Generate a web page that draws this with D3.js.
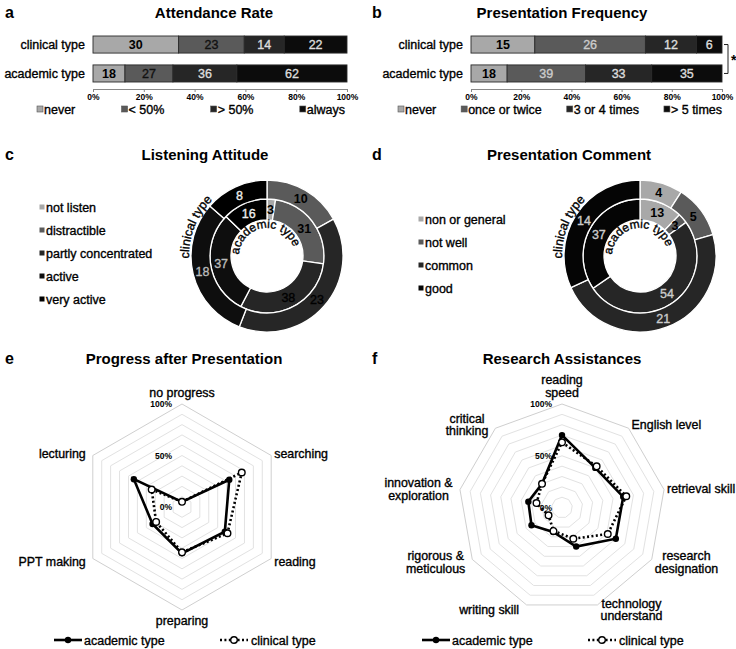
<!DOCTYPE html>
<html>
<head>
<meta charset="utf-8">
<script src="https://cdn.jsdelivr.net/npm/d3@7"></script>
<style>
  body { margin: 0; background: #fff; }
  svg { font-family: "Liberation Sans", Arial, Helvetica, sans-serif; }
</style>
</head>
<body>
<svg id="fig" width="736" height="649"></svg>
<script>
// ---- data ----
const groups = ["clinical type", "academic type"];

const attendanceKeys = ["never", "< 50%", "> 50%", "always"];
const attendanceClinical = [30, 23, 14, 22];
const attendanceAcademic = [18, 27, 36, 62];

const frequencyKeys = ["never", "once or twice", "3 or 4 times", "> 5 times"];
const frequencyClinical = [15, 26, 12, 6];
const frequencyAcademic = [18, 39, 33, 35];

const listenKeys = ["not listen", "distractible", "partly concentrated", "active", "very active"];
const listenClinical = [0, 10, 23, 18, 8];
const listenAcademic = [3, 31, 38, 37, 16];

const commentKeys = ["non or general", "not well", "common", "good"];
const commentClinical = [4, 5, 21, 14];
const commentAcademic = [13, 3, 54, 37];

const progressAxes = ["no progress", "searching", "reading", "preparing", "PPT making", "lecturing"];
const progressAcademic = [5, 53, 48, 45, 33, 54];
const progressClinical = [5, 67, 51, 44, 29, 34];

const researchAxes = ["reading\nspeed", "English level", "retrieval skill", "research\ndesignation",
  "technology\nunderstand", "writing skill", "rigorous &\nmeticulous", "innovation &\nexploration", "critical\nthinking"];
const researchAcademic = [70, 50, 60, 60, 40, 25, 34, 33, 30];
const researchClinical = [63, 52, 63, 51, 32, 24, 15, 25, 30];

const percentTicks = [0, 20, 40, 60, 80, 100];
const radarTicks = [0, 50, 100];

// ---- styles ----
const barColors = ["#a8a8a8", "#5a5a5a", "#262626", "#0c0c0c"];
const donutColors5 = ["#a8a8a8", "#5a5a5a", "#262626", "#0e0e0e", "#000"];
const donutColors4 = ["#a8a8a8", "#5a5a5a", "#262626", "#050505"];

const svg = d3.select("#fig");

function panelHead(x, letter, tx, title, y) {
  svg.append("text").attr("x", x).attr("y", y).attr("font-size", 16).attr("font-weight", "bold").text(letter);
  svg.append("text").attr("x", tx).attr("y", y).attr("text-anchor", "middle")
    .attr("font-size", 15).attr("font-weight", "bold").text(title);
}

function flowLegend(g, keys, colors, xStart, xEnd, y) {
  const items = g.selectAll(".li").data(keys).enter().append("g").attr("class", "li");
  items.append("rect").attr("width", 6).attr("height", 6).attr("y", -8)
    .attr("fill", (d, i) => colors[i]).attr("stroke", "#555").attr("stroke-width", 0.6);
  items.append("text").attr("x", 7).attr("y", 0).attr("font-size", 12.5).text(d => d);
  const widths = [];
  items.each(function () { widths.push(this.getBBox().width); });
  const gap = (xEnd - xStart - d3.sum(widths)) / (keys.length - 1);
  let cur = xStart;
  items.attr("transform", (d, i) => { const t = `translate(${cur},${y})`; cur += widths[i] + gap; return t; });
}

function drawBars(cfg) {
  const g = svg.append("g");
  const x = d3.scaleLinear().domain([0, 100]).range([cfg.x0, cfg.x1]);
  const y = d3.scaleBand().domain(groups).range([36, 82]).paddingInner(0.41);
  const rows = [cfg.clinical, cfg.academic].map((vals, gi) => {
    const total = d3.sum(vals);
    const o = { group: groups[gi] };
    cfg.keys.forEach((k, i) => { o[k] = vals[i] / total * 100; o["raw" + i] = vals[i]; });
    return o;
  });
  const series = d3.stack().keys(cfg.keys)(rows);

  series.forEach((s, i) => {
    g.selectAll(null).data(s).enter().append("rect")
      .attr("x", d => x(d[0])).attr("y", d => y(d.data.group))
      .attr("width", d => x(d[1]) - x(d[0])).attr("height", y.bandwidth())
      .attr("fill", barColors[i]).attr("stroke", "#2a2a2a").attr("stroke-width", 0.9);
    g.selectAll(null).data(s).enter().append("text")
      .attr("x", d => (x(d[0]) + x(d[1])) / 2).attr("y", d => y(d.data.group) + y.bandwidth() / 2)
      .attr("dy", "0.36em").attr("text-anchor", "middle").attr("font-size", 12.5)
      .attr("font-weight", i === 0 ? "bold" : "normal")
      .attr("fill", cfg.textColors[i]).text(d => d.data["raw" + i]);
  });

  g.selectAll(null).data(groups).enter().append("text")
    .attr("x", cfg.x0 - 8).attr("y", d => y(d) + y.bandwidth() / 2).attr("dy", "0.36em")
    .attr("text-anchor", "end").attr("font-size", 12.5).text(d => d);

  const ax = g.append("g").attr("transform", "translate(0,89)")
    .call(d3.axisBottom(x).tickValues(percentTicks).tickFormat(d => d + "%").tickSize(3).tickPadding(2));
  ax.selectAll("path,line").attr("stroke", "#888");
  ax.selectAll("text").attr("font-size", 8.5).attr("font-weight", "bold").attr("fill", "#000")
    .attr("font-family", null);

  flowLegend(g, cfg.keys, barColors, cfg.legendStart, cfg.legendEnd, 114);
  return { g, y };
}

// panel a
panelHead(5, "a", 214, "Attendance Rate", 18);
drawBars({ x0: 93, x1: 347, keys: attendanceKeys, clinical: attendanceClinical, academic: attendanceAcademic,
  textColors: ["#000", "#111", "#ddd", "#ddd"], legendStart: 37, legendEnd: 345 });

// panel b
panelHead(372, "b", 562, "Presentation Frequency", 18);
const bb = drawBars({ x0: 471, x1: 722, keys: frequencyKeys, clinical: frequencyClinical, academic: frequencyAcademic,
  textColors: ["#000", "#ccc", "#ddd", "#ddd"], legendStart: 398, legendEnd: 722 });
// significance bracket
const yTop = bb.y(groups[0]) + bb.y.bandwidth() / 2, yBot = bb.y(groups[1]) + bb.y.bandwidth() / 2;
bb.g.append("path").attr("d", `M724,${yTop}H728V${yBot}H724`).attr("fill", "none").attr("stroke", "#222").attr("stroke-width", 1);
bb.g.append("text").attr("x", 731).attr("y", (yTop + yBot) / 2 + 6).attr("font-size", 14).attr("font-weight", "bold").text("*");

// ---- donuts ----
let pathId = 0;
function arcText(g, r, midDeg, label, size) {
  const id = "tp" + (pathId++);
  const a0 = (midDeg - 150) * Math.PI / 180, a1 = (midDeg + 150) * Math.PI / 180;
  g.append("path").attr("id", id).attr("fill", "none")
    .attr("d", `M${r * Math.sin(a0)},${-r * Math.cos(a0)}A${r},${r} 0 1 1 ${r * Math.sin(a1)},${-r * Math.cos(a1)}`);
  g.append("text").attr("font-size", size).append("textPath").attr("href", "#" + id)
    .attr("startOffset", "50%").attr("text-anchor", "middle").text(label);
}

function drawDonut(cfg) {
  const g = svg.append("g").attr("transform", `translate(${cfg.cx},${cfg.cy})`);
  const pie = d3.pie().sort(null).value(d => d);
  const rings = [
    { vals: cfg.academic, arc: d3.arc().innerRadius(36).outerRadius(57) },
    { vals: cfg.clinical, arc: d3.arc().innerRadius(57).outerRadius(76) }
  ];
  rings.forEach(rg => {
    const arcs = pie(rg.vals);
    g.selectAll(null).data(arcs).enter().append("path")
      .attr("d", rg.arc).attr("fill", (d, i) => cfg.colors[i]).attr("stroke", "#fff").attr("stroke-width", 1.3);
    g.selectAll(null).data(arcs.filter(d => d.value > 0)).enter().append("text")
      .attr("transform", d => `translate(${rg.arc.centroid(d)})`).attr("dy", "0.36em")
      .attr("text-anchor", "middle").attr("font-size", 12.5)
      .attr("font-weight", d => d.index < 2 ? "bold" : "normal")
      .attr("fill", d => cfg.textColors[d.index]).text(d => d.value);
  });
  arcText(g, 28, -8, "academic type", 12);
  arcText(g, 78, -68, "clinical type", 12.5);

  const lg = svg.append("g");
  const it = lg.selectAll(null).data(cfg.keys).enter().append("g")
    .attr("transform", (d, i) => `translate(${cfg.legendX},${cfg.legendY + i * 23})`);
  it.append("rect").attr("x", -6.5).attr("y", -2.5).attr("width", 5).attr("height", 5).attr("fill", (d, i) => cfg.colors[i]);
  it.append("text").attr("x", 0).attr("y", 0).attr("dy", "0.36em").attr("font-size", 12.5).text(d => d);
}

panelHead(5, "c", 205, "Listening Attitude", 160);
drawDonut({ cx: 267, cy: 256, keys: listenKeys, clinical: listenClinical, academic: listenAcademic,
  colors: donutColors5, textColors: ["#000", "#000", "#000", "#bbb", "#eee"], legendX: 46, legendY: 207 });

panelHead(372, "d", 569, "Presentation Comment", 160);
drawDonut({ cx: 640, cy: 256, keys: commentKeys, clinical: commentClinical, academic: commentAcademic,
  colors: donutColors4, textColors: ["#000", "#000", "#ccc", "#ccc"], legendX: 425, legendY: 219 });

// ---- radars ----
function drawRadar(cfg) {
  const g = svg.append("g").attr("transform", `translate(${cfg.cx},${cfg.cy})`);
  const n = cfg.axes.length, step = 2 * Math.PI / n;
  const r = d3.scaleLinear().domain([0, 100]).range([0, cfg.R]);
  const ring = d3.lineRadial().angle((d, i) => i * step).radius(d => r(d)).curve(d3.curveLinearClosed);

  d3.range(10, 101, 10).forEach(lv => {
    g.append("path").attr("d", ring(d3.range(n).map(() => lv))).attr("fill", "none")
      .attr("stroke", lv === 100 ? "#cfcfcf" : "#e2e2e2").attr("stroke-width", 1);
  });

  g.selectAll(null).data(radarTicks).enter().append("text")
    .attr("x", -10).attr("y", d => -r(d)).attr("dy", "0.36em").attr("text-anchor", "end")
    .attr("font-size", 8.5).attr("font-weight", "bold").attr("fill", "#000").text(d => d + "%");

  // axis labels
  cfg.axes.forEach((lab, i) => {
    const a = i * step, s = Math.sin(a), c = Math.cos(a);
    const vx = cfg.R * s, vy = -cfg.R * c;
    const lines = lab.split("\n");
    const t = g.append("text").attr("font-size", 12.4).attr("text-anchor", "middle");
    lines.forEach((l, k) => t.append("tspan").attr("x", 0).attr("dy", k ? 12.6 : 0).text(l));
    const w = t.node().getBBox().width;
    const blockH = (lines.length - 1) * 12.6;
    let tx, ty;
    if (Math.abs(s) < 0.05) {
      tx = vx;
      ty = c > 0 ? vy - 7 - blockH : vy + 14.5;
    } else {
      const gap = s > 0 ? 3 : 7;
      tx = vx + Math.sign(s) * (gap + w / 2);
      ty = vy - c * 5 - blockH / 2 + 4.5;
    }
    t.attr("transform", `translate(${tx},${ty})`);
  });

  const pts = vals => vals.map((v, i) => [r(v) * Math.sin(i * step), -r(v) * Math.cos(i * step)]);
  g.append("path").attr("d", ring(cfg.clinical)).attr("fill", "none").attr("stroke", "#000")
    .attr("stroke-width", 2.6).attr("stroke-dasharray", "2,2.4");
  g.append("path").attr("d", ring(cfg.academic)).attr("fill", "none").attr("stroke", "#000").attr("stroke-width", 2.6);
  g.selectAll(null).data(pts(cfg.academic)).enter().append("circle")
    .attr("cx", d => d[0]).attr("cy", d => d[1]).attr("r", 3.2).attr("fill", "#000");
  g.selectAll(null).data(pts(cfg.clinical)).enter().append("circle")
    .attr("cx", d => d[0]).attr("cy", d => d[1]).attr("r", 3.3).attr("fill", "#fff")
    .attr("stroke", "#000").attr("stroke-width", 1.4);

  // legend
  const lg = svg.append("g").attr("transform", `translate(${cfg.ox},640)`);
  lg.append("line").attr("x1", 54).attr("x2", 82).attr("stroke", "#000").attr("stroke-width", 2.6);
  lg.append("circle").attr("cx", 68).attr("r", 3.2).attr("fill", "#000");
  lg.append("text").attr("x", 84).attr("dy", "0.36em").attr("font-size", 12.5).text("academic type");
  lg.append("line").attr("x1", 220).attr("x2", 248).attr("stroke", "#000").attr("stroke-width", 2.6)
    .attr("stroke-dasharray", "2,2.4");
  lg.append("circle").attr("cx", 234).attr("r", 3.3).attr("fill", "#fff").attr("stroke", "#000").attr("stroke-width", 1.4);
  lg.append("text").attr("x", 251).attr("dy", "0.36em").attr("font-size", 12.5).text("clinical type");
}

panelHead(5, "e", 184, "Progress after Presentation", 364);
drawRadar({ cx: 182, cy: 507, R: 103, ox: 0, axes: progressAxes, academic: progressAcademic, clinical: progressClinical });

panelHead(372, "f", 562, "Research Assistances", 364);
drawRadar({ cx: 562, cy: 507.6, R: 103.6, ox: 368, axes: researchAxes, academic: researchAcademic, clinical: researchClinical });

// the scanned figure's regular text reads a little heavier than a plain sans
svg.selectAll("text").filter(function () { return this.getAttribute("font-weight") !== "bold"; })
  .each(function () {
    const f = this.getAttribute("fill") || "#000";
    d3.select(this).attr("stroke", f).attr("stroke-width", 0.35);
  });
</script>
</body>
</html>
